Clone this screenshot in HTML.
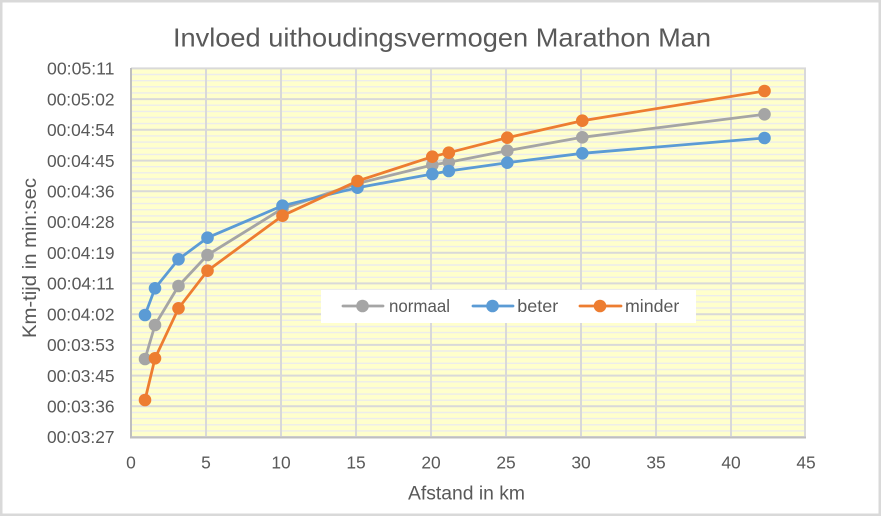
<!DOCTYPE html>
<html>
<head>
<meta charset="utf-8">
<style>
  html,body{margin:0;padding:0;background:#fff;}
  svg{display:block;}
  text{font-family:"Liberation Sans",Arial,sans-serif;fill:#595959;}
</style>
</head>
<body>
<svg width="881" height="516" viewBox="0 0 881 516" xmlns="http://www.w3.org/2000/svg">
  <!-- outer chart border -->
  <rect x="1.25" y="1.25" width="878.5" height="513.5" fill="#fff" stroke="#D9D9D9" stroke-width="2.5"/>

  <!-- title -->
  <text x="442" y="46.5" font-size="26" text-anchor="middle" textLength="538" lengthAdjust="spacingAndGlyphs">Invloed uithoudingsvermogen Marathon Man</text>

  <!-- plot background -->
  <rect x="131" y="68.4" width="675" height="368.6" fill="#FFFFCC"/>

  <!-- minor gridlines -->
  <g stroke="#ECECEC" stroke-width="1.4">
    <path d="M131 74.5H806M131 80.7H806M131 86.8H806M131 92.9H806
             M131 105.2H806M131 111.4H806M131 117.5H806M131 123.6H806
             M131 135.9H806M131 142.1H806M131 148.2H806M131 154.4H806
             M131 166.7H806M131 172.8H806M131 179.0H806M131 185.1H806
             M131 197.4H806M131 203.6H806M131 209.7H806M131 215.9H806
             M131 228.1H806M131 234.3H806M131 240.4H806M131 246.6H806
             M131 258.9H806M131 265.0H806M131 271.2H806M131 277.3H806
             M131 289.6H806M131 295.7H806M131 301.9H806M131 308.0H806
             M131 320.3H806M131 326.5H806M131 332.6H806M131 338.8H806
             M131 351.0H806M131 357.2H806M131 363.3H806M131 369.5H806
             M131 381.8H806M131 387.9H806M131 394.1H806M131 400.2H806
             M131 412.5H806M131 418.6H806M131 424.8H806M131 430.9H806"/>
  </g>

  <!-- major gridlines -->
  <g stroke="#D9D9D9" stroke-width="2">
    <path d="M131 68.4H806M131 99.1H806M131 129.8H806M131 160.6H806M131 191.3H806M131 222H806
             M131 252.7H806M131 283.4H806M131 314.2H806M131 344.9H806M131 375.6H806M131 406.3H806M131 437H806"/>
    <path d="M131 68.4V437M206 68.4V437M281 68.4V437M356 68.4V437M431 68.4V437M506 68.4V437
             M581 68.4V437M656 68.4V437M731 68.4V437M805 68.4V437"/>
  </g>
  <!-- axes -->
  <g stroke="#BFBFBF" stroke-width="2">
    <path d="M131 68V438"/>
    <path d="M130 437.5H806"/>
  </g>

  <!-- y tick labels -->
  <g font-size="17.4" text-anchor="end">
    <text x="114.5" y="74.6" textLength="67.5" lengthAdjust="spacingAndGlyphs">00:05:11</text>
    <text x="114.5" y="105.3" textLength="67.5" lengthAdjust="spacingAndGlyphs">00:05:02</text>
    <text x="114.5" y="136.0" textLength="67.5" lengthAdjust="spacingAndGlyphs">00:04:54</text>
    <text x="114.5" y="166.8" textLength="67.5" lengthAdjust="spacingAndGlyphs">00:04:45</text>
    <text x="114.5" y="197.5" textLength="67.5" lengthAdjust="spacingAndGlyphs">00:04:36</text>
    <text x="114.5" y="228.2" textLength="67.5" lengthAdjust="spacingAndGlyphs">00:04:28</text>
    <text x="114.5" y="258.9" textLength="67.5" lengthAdjust="spacingAndGlyphs">00:04:19</text>
    <text x="114.5" y="289.6" textLength="67.5" lengthAdjust="spacingAndGlyphs">00:04:11</text>
    <text x="114.5" y="320.4" textLength="67.5" lengthAdjust="spacingAndGlyphs">00:04:02</text>
    <text x="114.5" y="351.1" textLength="67.5" lengthAdjust="spacingAndGlyphs">00:03:53</text>
    <text x="114.5" y="381.8" textLength="67.5" lengthAdjust="spacingAndGlyphs">00:03:45</text>
    <text x="114.5" y="412.5" textLength="67.5" lengthAdjust="spacingAndGlyphs">00:03:36</text>
    <text x="114.5" y="443.2" textLength="67.5" lengthAdjust="spacingAndGlyphs">00:03:27</text>
  </g>

  <!-- x tick labels -->
  <g font-size="17.4" text-anchor="middle">
    <text x="131" y="468.5">0</text>
    <text x="206" y="468.5">5</text>
    <text x="281" y="468.5">10</text>
    <text x="356" y="468.5">15</text>
    <text x="431" y="468.5">20</text>
    <text x="506" y="468.5">25</text>
    <text x="581" y="468.5">30</text>
    <text x="656" y="468.5">35</text>
    <text x="731" y="468.5">40</text>
    <text x="806" y="468.5">45</text>
  </g>

  <!-- axis titles -->
  <text x="466.5" y="499.3" font-size="19.3" text-anchor="middle" textLength="117" lengthAdjust="spacingAndGlyphs">Afstand in km</text>
  <text transform="translate(36,258) rotate(-90)" x="0" y="0" font-size="19.3" text-anchor="middle" textLength="160" lengthAdjust="spacingAndGlyphs">Km-tijd in min:sec</text>

  <!-- series: normaal -->
  <g>
    <polyline fill="none" stroke="#A5A5A5" stroke-width="2.8" stroke-linejoin="round" stroke-linecap="round"
      points="145,359 155,325 178.5,286 207.5,255 282.5,208.5 357.5,183.5 432.3,165 448.8,162.3 507.3,150.7 582.3,137.3 764.5,114.3"/>
    <g fill="#A5A5A5">
      <circle cx="145" cy="359" r="6.3"/><circle cx="155" cy="325" r="6.3"/><circle cx="178.5" cy="286" r="6.3"/>
      <circle cx="207.5" cy="255" r="6.3"/><circle cx="282.5" cy="208.5" r="6.3"/><circle cx="357.5" cy="183.5" r="6.3"/>
      <circle cx="432.3" cy="165" r="6.3"/><circle cx="448.8" cy="162.3" r="6.3"/><circle cx="507.3" cy="150.7" r="6.3"/>
      <circle cx="582.3" cy="137.3" r="6.3"/><circle cx="764.5" cy="114.3" r="6.3"/>
    </g>
  </g>

  <!-- series: beter -->
  <g>
    <polyline fill="none" stroke="#5B9BD5" stroke-width="2.8" stroke-linejoin="round" stroke-linecap="round"
      points="145,315 155,288.3 178.5,259.3 207.5,237.7 282.5,205.7 357.5,187.7 432.3,174 448.8,171 507.3,162.7 582.3,153.3 764.5,138"/>
    <g fill="#5B9BD5">
      <circle cx="145" cy="315" r="6.3"/><circle cx="155" cy="288.3" r="6.3"/><circle cx="178.5" cy="259.3" r="6.3"/>
      <circle cx="207.5" cy="237.7" r="6.3"/><circle cx="282.5" cy="205.7" r="6.3"/><circle cx="357.5" cy="187.7" r="6.3"/>
      <circle cx="432.3" cy="174" r="6.3"/><circle cx="448.8" cy="171" r="6.3"/><circle cx="507.3" cy="162.7" r="6.3"/>
      <circle cx="582.3" cy="153.3" r="6.3"/><circle cx="764.5" cy="138" r="6.3"/>
    </g>
  </g>

  <!-- series: minder -->
  <g>
    <polyline fill="none" stroke="#ED7D31" stroke-width="2.8" stroke-linejoin="round" stroke-linecap="round"
      points="145,400 155,358.3 178.5,308.3 207.5,270.7 282.5,215.7 357.5,181 432.3,156.7 448.8,152.7 507.3,137.7 582.3,120.7 764.5,91"/>
    <g fill="#ED7D31">
      <circle cx="145" cy="400" r="6.3"/><circle cx="155" cy="358.3" r="6.3"/><circle cx="178.5" cy="308.3" r="6.3"/>
      <circle cx="207.5" cy="270.7" r="6.3"/><circle cx="282.5" cy="215.7" r="6.3"/><circle cx="357.5" cy="181" r="6.3"/>
      <circle cx="432.3" cy="156.7" r="6.3"/><circle cx="448.8" cy="152.7" r="6.3"/><circle cx="507.3" cy="137.7" r="6.3"/>
      <circle cx="582.3" cy="120.7" r="6.3"/><circle cx="764.5" cy="91" r="6.3"/>
    </g>
  </g>

  <!-- legend -->
  <rect x="321" y="290" width="375" height="33" fill="#fff"/>
  <g stroke-width="2.8" stroke-linecap="round">
    <line x1="343" y1="306" x2="383" y2="306" stroke="#A5A5A5"/>
    <line x1="473" y1="306" x2="513" y2="306" stroke="#5B9BD5"/>
    <line x1="580" y1="306" x2="621" y2="306" stroke="#ED7D31"/>
  </g>
  <circle cx="362.5" cy="306" r="6.3" fill="#A5A5A5"/>
  <circle cx="492.5" cy="306" r="6.3" fill="#5B9BD5"/>
  <circle cx="600" cy="306" r="6.3" fill="#ED7D31"/>
  <g font-size="17.5">
    <text x="389" y="312" textLength="61" lengthAdjust="spacingAndGlyphs">normaal</text>
    <text x="517.3" y="312" textLength="41" lengthAdjust="spacingAndGlyphs">beter</text>
    <text x="625" y="312" textLength="54.3" lengthAdjust="spacingAndGlyphs">minder</text>
  </g>
</svg>
</body>
</html>
